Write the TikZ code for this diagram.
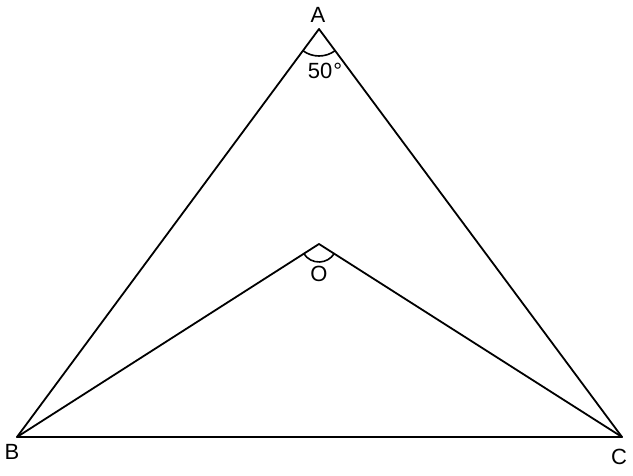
\documentclass[tikz,border=0pt]{standalone}
\usepackage{fontspec}
\setmainfont{Liberation Sans}
\usetikzlibrary{angles}
\begin{document}
\begin{tikzpicture}[x=1pt,y=1pt,
  edge/.style={line width=1.8pt,line cap=round,line join=round},
  lbl/.style={font=\fontsize{22}{24}\selectfont,inner sep=0pt},
  arcmark/.style={draw,line width=1.6pt}]
\useasboundingbox (0,0) rectangle (633,475);
\coordinate (A) at (319,446);
\coordinate (B) at (17,38);
\coordinate (C) at (622,38);
\coordinate (O) at (319,231);
\draw[edge] (A) -- (B) -- (C) -- cycle;
\draw[edge] (B) -- (O) -- (C);
\pic[arcmark,angle radius=27pt] {angle=B--A--C};
\pic[arcmark,angle radius=18pt] {angle=B--O--C};
\node[lbl] (la) at (318,460) {A};
\node[lbl] (lb) at (12,23) {B};
\node[lbl] (lc) at (619,18) {C};
\node[lbl] (lo) at (319,201) {O};
\node[lbl] (l50) at (325,404) {50\kern1pt°};
\end{tikzpicture}
\end{document}
